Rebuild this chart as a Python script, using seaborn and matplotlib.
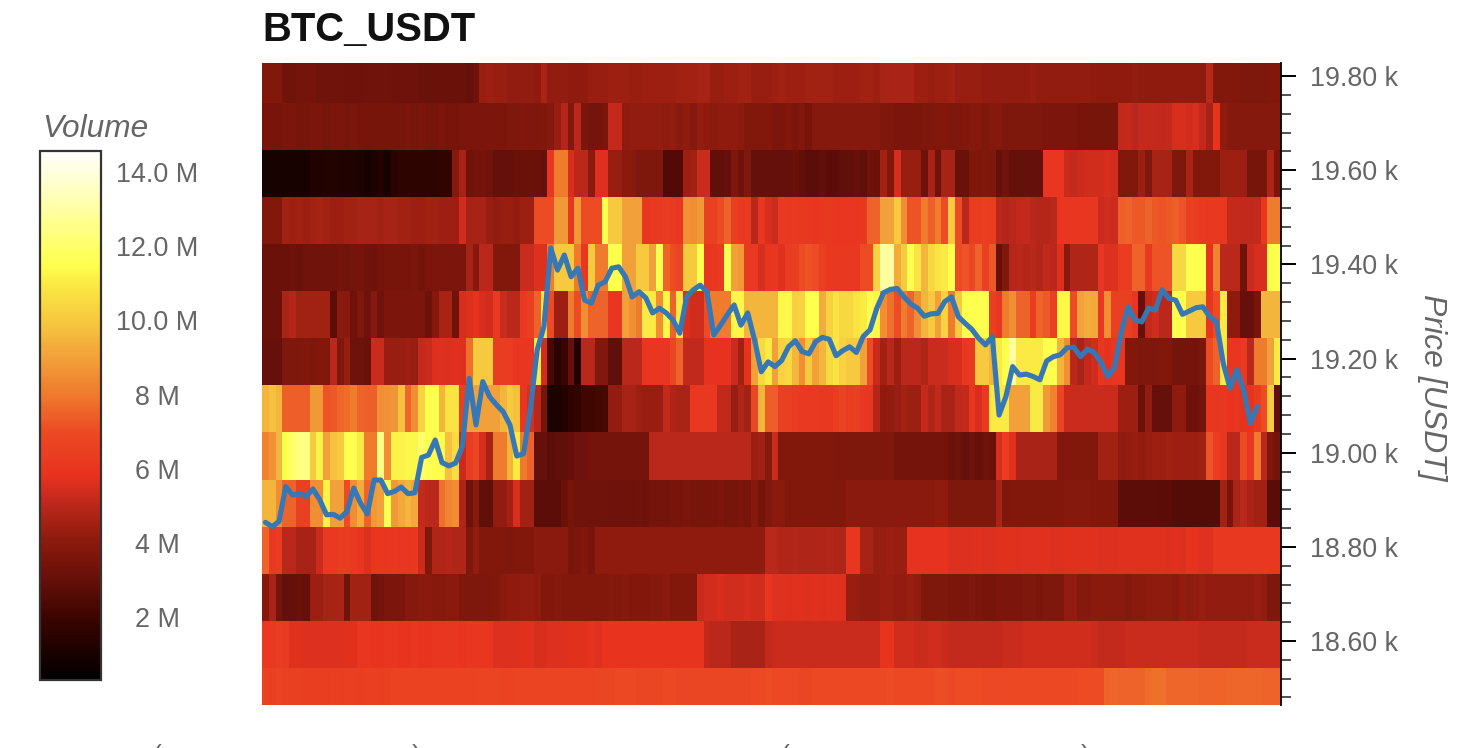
import numpy as np
import matplotlib
matplotlib.use('Agg')
import matplotlib.pyplot as plt
from matplotlib.colors import LinearSegmentedColormap
import seaborn as sns

sns.set_style('white')
plt.rcParams['font.family'] = ['Liberation Sans', 'DejaVu Sans']

# volume per price bin (millions), top row first, one value per time step
vol_19790 = [3.8, 3.8, 3.8, 3.3, 3.3, 3.4, 3.4, 3.4, 3.3, 3.3,
             3.3, 3.3, 3.2, 3.2, 3.2, 3.3, 3.3, 3.3, 3.3, 3.2,
             3.2, 3.2, 3.2, 3.1, 3.1, 3.1, 3.1, 3.1, 3.1, 3.1,
             3.0, 3.2, 4.3, 4.4, 4.3, 4.3, 4.2, 4.2, 4.2, 4.2,
             4.1, 4.7, 4.2, 4.2, 4.2, 4.1, 4.1, 4.1, 4.3, 4.3,
             4.3, 4.4, 4.4, 4.4, 4.3, 4.3, 4.4, 4.4, 4.4, 4.4,
             4.4, 4.5, 4.5, 4.5, 4.6, 4.6, 4.3, 4.3, 4.4, 4.4,
             4.5, 4.5, 4.3, 4.3, 4.3, 4.4, 4.5, 4.4, 4.4, 4.4,
             4.5, 4.5, 4.5, 4.5, 4.4, 4.4, 4.4, 4.4, 4.5, 4.5,
             4.4, 4.6, 4.7, 4.7, 4.7, 4.7, 4.4, 4.4, 4.3, 4.4,
             4.4, 4.5, 4.3, 4.3, 4.3, 4.3, 4.2, 4.2, 4.2, 4.2,
             4.2, 4.2, 4.2, 4.3, 4.2, 4.2, 4.2, 4.2, 4.2, 4.2,
             4.2, 4.2, 4.1, 4.1, 4.1, 4.1, 4.1, 4.1, 4.2, 4.1,
             4.1, 4.1, 4.1, 4.1, 4.1, 4.1, 4.1, 4.1, 4.1, 5.0,
             3.8, 3.8, 3.8, 3.8, 3.7, 3.7, 3.7, 3.7, 3.8, 3.8]
vol_19690 = [3.5, 3.5, 3.5, 3.6, 3.6, 3.5, 3.5, 3.6, 3.6, 3.5,
             3.6, 3.6, 3.5, 3.6, 3.5, 3.5, 3.5, 3.5, 3.5, 3.5,
             3.5, 3.6, 3.5, 3.6, 3.5, 3.5, 3.6, 3.5, 3.5, 3.6,
             3.6, 3.6, 3.6, 3.6, 3.6, 3.6, 3.7, 3.7, 3.8, 3.7,
             3.7, 3.8, 3.9, 4.3, 4.9, 3.8, 5.0, 3.6, 3.4, 3.4,
             3.6, 5.2, 5.2, 4.1, 4.2, 4.2, 4.2, 4.2, 4.2, 4.1,
             4.2, 4.0, 4.1, 3.9, 4.2, 4.1, 4.0, 4.1, 4.1, 4.1,
             4.0, 3.8, 3.8, 3.8, 3.8, 3.6, 3.6, 3.8, 3.6, 3.8,
             3.5, 3.9, 3.9, 3.9, 3.9, 3.9, 3.9, 3.9, 3.9, 3.9,
             3.9, 3.7, 3.7, 3.6, 3.6, 3.6, 3.6, 3.7, 3.7, 3.8,
             3.8, 3.7, 3.7, 3.8, 3.9, 3.9, 3.7, 3.9, 3.9, 3.7,
             3.7, 3.7, 3.7, 3.7, 3.7, 3.6, 3.6, 3.6, 3.6, 3.6,
             3.5, 3.5, 3.5, 3.5, 3.5, 3.5, 5.1, 5.2, 5.0, 5.2,
             5.2, 5.2, 5.1, 5.2, 5.5, 5.5, 5.4, 5.5, 5.2, 4.6,
             5.9, 4.1, 3.9, 3.9, 3.9, 3.9, 3.9, 3.9, 3.9, 3.9]
vol_19590 = [1.0, 1.0, 1.0, 1.0, 1.0, 1.0, 1.0, 1.2, 1.2, 1.3,
             1.3, 1.2, 1.2, 1.2, 1.1, 1.0, 1.1, 1.3, 1.0, 1.5,
             1.6, 1.6, 1.6, 1.6, 1.6, 1.6, 1.7, 1.7, 3.9, 4.6,
             3.3, 3.4, 3.4, 3.3, 3.0, 3.0, 3.0, 3.1, 3.1, 3.1,
             3.1, 3.0, 6.0, 8.0, 8.0, 5.5, 5.0, 5.0, 4.0, 5.6,
             5.6, 4.3, 4.3, 4.0, 4.0, 3.7, 3.7, 3.7, 3.7, 2.5,
             2.5, 2.5, 4.4, 4.5, 5.3, 5.3, 2.9, 2.9, 3.0, 3.7,
             3.2, 3.7, 3.0, 3.0, 3.0, 3.0, 3.0, 3.0, 3.1, 2.9,
             2.8, 2.8, 2.9, 2.8, 2.8, 2.9, 2.9, 3.0, 2.9, 3.2,
             3.1, 4.5, 3.8, 5.5, 4.3, 4.3, 4.3, 3.2, 4.7, 3.3,
             4.6, 4.6, 3.1, 3.1, 3.7, 3.7, 3.8, 3.7, 3.0, 3.3,
             3.0, 3.0, 3.0, 3.0, 3.0, 6.0, 6.0, 6.0, 5.3, 5.2,
             5.3, 5.4, 5.4, 5.4, 5.5, 5.4, 3.8, 3.8, 3.8, 4.4,
             3.8, 4.6, 4.6, 4.6, 3.7, 3.7, 4.7, 3.8, 3.8, 3.8,
             3.8, 4.4, 4.4, 4.4, 4.4, 3.5, 3.5, 3.5, 4.8, 3.6]
vol_19490 = [3.8, 3.8, 3.8, 4.5, 4.4, 4.5, 4.4, 4.5, 4.6, 4.5,
             4.4, 4.4, 4.5, 4.5, 4.6, 4.6, 4.6, 4.5, 4.6, 4.6,
             4.5, 4.5, 4.4, 4.4, 4.5, 4.5, 4.4, 4.4, 4.4, 5.4,
             4.6, 4.6, 4.6, 4.3, 4.2, 4.3, 4.3, 4.2, 4.4, 4.4,
             7.0, 7.0, 7.0, 8.8, 8.8, 6.0, 8.8, 7.0, 7.0, 7.0,
             11.5, 10.0, 10.0, 9.0, 9.0, 9.0, 6.0, 6.2, 6.2, 6.3,
             6.2, 6.0, 8.6, 8.5, 8.8, 6.5, 6.5, 7.0, 7.5, 6.4,
             6.2, 6.2, 5.0, 6.0, 5.5, 5.3, 6.2, 6.1, 6.2, 6.1,
             6.1, 6.0, 6.1, 6.1, 6.0, 6.0, 6.0, 6.0, 6.1, 7.5,
             7.5, 9.0, 9.0, 10.0, 8.5, 7.2, 7.2, 8.0, 7.4, 8.0,
             7.0, 10.0, 7.0, 5.0, 6.3, 6.3, 6.4, 6.3, 5.0, 4.9,
             5.0, 5.1, 5.2, 5.0, 4.9, 4.9, 5.0, 6.0, 6.0, 6.0,
             6.0, 6.0, 6.0, 5.3, 5.4, 5.3, 7.4, 7.5, 7.3, 7.3,
             7.5, 7.3, 7.2, 7.3, 7.4, 7.2, 6.5, 6.3, 6.2, 6.1,
             6.1, 6.1, 5.2, 5.2, 5.1, 5.1, 5.2, 6.0, 8.0, 8.0]
vol_19390 = [3.1, 3.1, 3.1, 3.1, 3.2, 3.1, 3.3, 3.3, 3.3, 3.3,
             3.3, 3.4, 3.3, 3.4, 3.4, 3.3, 3.2, 3.4, 3.5, 3.5,
             3.5, 3.5, 3.6, 3.4, 3.6, 3.6, 3.6, 3.6, 3.6, 3.6,
             4.6, 3.9, 5.0, 5.0, 3.8, 3.8, 3.8, 3.8, 5.3, 5.3,
             5.6, 5.6, 8.0, 10.0, 10.0, 10.0, 8.0, 6.0, 10.0, 8.0,
             8.0, 11.5, 11.5, 9.0, 9.0, 10.0, 10.0, 9.0, 11.5, 7.5,
             7.0, 6.8, 10.0, 10.0, 11.5, 6.0, 6.0, 6.2, 11.5, 9.0,
             8.8, 6.2, 6.2, 5.5, 6.0, 6.1, 5.7, 6.3, 6.4, 7.0,
             7.2, 7.0, 6.5, 6.1, 6.1, 6.1, 6.1, 6.1, 7.0, 7.0,
             10.3, 13.0, 13.0, 9.3, 10.0, 11.5, 10.8, 9.5, 10.5, 10.8,
             11.0, 11.5, 7.0, 7.2, 6.8, 7.5, 6.5, 7.3, 3.0, 3.8,
             4.9, 5.0, 4.9, 5.0, 4.8, 5.1, 5.0, 5.6, 4.0, 4.8,
             4.8, 4.8, 4.8, 6.0, 5.6, 5.6, 6.3, 6.3, 7.5, 7.5,
             6.2, 7.2, 7.2, 7.2, 10.5, 10.5, 11.5, 11.5, 11.5, 5.8,
             8.3, 5.0, 5.0, 5.0, 3.3, 5.3, 5.5, 5.5, 11.5, 11.5]
vol_19290 = [3.1, 3.1, 3.1, 4.7, 4.9, 4.5, 4.5, 4.5, 4.5, 4.5,
             2.8, 4.0, 4.0, 3.2, 3.7, 3.2, 3.9, 3.2, 3.6, 3.6,
             3.6, 3.6, 3.6, 3.6, 3.2, 3.9, 4.6, 4.6, 3.3, 5.5,
             5.6, 5.8, 5.5, 5.4, 6.2, 5.3, 5.0, 5.0, 6.2, 6.5,
             7.5, 11.0, 7.0, 4.4, 4.4, 8.0, 7.0, 8.5, 7.5, 7.5,
             7.5, 6.0, 6.0, 9.0, 8.5, 8.0, 11.0, 11.0, 8.5, 11.3,
             7.5, 11.0, 5.6, 5.4, 5.4, 7.0, 8.0, 8.0, 8.0, 11.3,
             11.3, 9.5, 9.5, 9.5, 9.5, 9.5, 11.3, 11.3, 10.2, 10.3,
             11.5, 11.5, 9.3, 10.3, 10.8, 10.5, 10.5, 10.8, 11.0, 11.5,
             11.3, 8.5, 7.8, 7.0, 8.0, 7.5, 8.5, 9.5, 10.0, 9.0,
             10.3, 8.0, 10.0, 11.5, 11.5, 11.5, 11.5, 6.5, 6.0, 8.0,
             8.5, 7.5, 7.5, 6.3, 7.5, 7.3, 6.5, 11.3, 11.3, 7.0,
             9.0, 9.3, 9.2, 6.0, 8.5, 6.5, 6.5, 6.5, 6.0, 3.0,
             5.2, 5.4, 5.0, 5.0, 11.5, 11.5, 10.0, 10.0, 10.0, 6.0,
             7.0, 11.0, 4.1, 4.1, 3.0, 3.0, 3.5, 9.5, 9.5, 9.5]
vol_19190 = [3.0, 3.0, 3.0, 3.7, 3.7, 3.7, 3.8, 3.7, 3.8, 3.8,
             5.0, 3.7, 4.3, 3.2, 3.2, 3.1, 5.3, 5.3, 4.3, 4.3,
             4.3, 4.4, 4.3, 5.2, 5.3, 5.6, 5.7, 5.6, 5.7, 5.6,
             7.8, 10.0, 10.0, 10.0, 6.3, 6.3, 6.3, 6.0, 6.0, 6.0,
             11.0, 5.4, 2.3, 1.5, 1.9, 3.0, 1.3, 5.0, 5.0, 3.8,
             3.8, 2.9, 2.9, 5.0, 5.0, 5.0, 6.0, 6.0, 6.0, 6.0,
             6.8, 7.5, 5.1, 5.1, 5.1, 5.8, 5.8, 5.8, 5.8, 5.3,
             4.5, 5.8, 9.0, 10.5, 11.0, 9.0, 10.3, 10.5, 9.5, 8.5,
             10.0, 9.0, 9.5, 10.5, 10.8, 10.3, 10.0, 10.0, 9.0, 7.0,
             5.3, 4.5, 5.0, 4.4, 5.0, 5.0, 5.0, 4.8, 5.3, 5.3,
             5.3, 5.5, 5.5, 6.1, 6.2, 10.0, 10.0, 9.5, 11.0, 11.5,
             13.0, 11.0, 11.0, 11.0, 11.0, 11.5, 11.5, 9.5, 8.5, 5.0,
             4.7, 5.2, 5.4, 6.0, 5.8, 6.0, 6.0, 3.8, 3.8, 3.7,
             3.7, 3.7, 3.8, 3.8, 3.4, 3.4, 3.4, 3.4, 3.6, 7.0,
             7.5, 11.0, 6.0, 6.0, 6.2, 5.0, 8.0, 8.0, 9.0, 11.0]
vol_19090 = [9.5, 9.8, 9.5, 7.4, 7.4, 7.4, 7.4, 8.8, 8.8, 7.2,
             7.3, 7.6, 7.7, 8.0, 7.5, 7.4, 7.4, 8.5, 8.6, 8.7,
             9.8, 7.6, 8.5, 10.3, 11.5, 11.5, 9.5, 10.8, 10.8, 6.5,
             9.0, 9.0, 9.0, 9.0, 9.0, 9.5, 10.0, 9.8, 6.0, 5.5,
             5.0, 3.5, 1.1, 1.1, 1.3, 1.6, 1.7, 2.1, 2.1, 2.2,
             2.3, 4.2, 4.2, 4.6, 4.6, 4.4, 4.3, 4.3, 4.3, 5.2,
             4.8, 4.7, 4.7, 6.1, 6.1, 6.1, 6.1, 5.1, 5.1, 4.3,
             4.8, 4.5, 6.8, 9.5, 7.4, 7.4, 6.5, 6.5, 6.3, 6.2,
             6.2, 6.2, 6.1, 6.1, 6.3, 6.6, 6.3, 6.5, 6.1, 6.0,
             4.9, 4.1, 4.2, 4.3, 4.5, 4.4, 4.4, 5.2, 4.8, 5.1,
             4.7, 4.7, 5.1, 5.2, 6.0, 5.5, 6.2, 11.0, 11.0, 11.0,
             9.0, 9.0, 9.0, 11.0, 11.0, 8.8, 8.2, 6.8, 5.3, 5.3,
             5.3, 5.3, 5.3, 5.3, 5.3, 5.3, 4.4, 4.4, 4.4, 3.1,
             4.2, 3.0, 3.0, 3.0, 4.1, 4.1, 3.2, 3.2, 3.4, 6.0,
             6.0, 6.1, 5.9, 6.0, 5.8, 5.9, 6.3, 7.0, 10.0, 2.9]
vol_18990 = [8.2, 8.6, 9.5, 11.5, 12.0, 12.4, 12.4, 10.0, 11.2, 9.0,
             9.8, 10.0, 11.5, 11.5, 11.0, 8.0, 8.0, 12.5, 8.5, 11.2,
             11.2, 11.3, 11.3, 12.0, 11.6, 11.4, 11.4, 9.8, 10.6, 5.3,
             6.3, 6.8, 5.5, 4.6, 8.0, 8.0, 9.5, 11.0, 8.0, 7.5,
             3.0, 3.0, 2.8, 2.9, 2.9, 3.0, 3.2, 3.2, 3.4, 3.4,
             3.4, 3.4, 3.4, 3.4, 3.4, 3.4, 3.4, 5.0, 5.0, 5.0,
             5.0, 5.0, 5.0, 5.0, 5.0, 5.0, 5.0, 5.0, 5.0, 5.0,
             5.0, 5.0, 4.4, 4.5, 3.9, 5.3, 3.8, 3.8, 3.8, 3.8,
             3.8, 3.8, 3.8, 3.8, 3.7, 3.7, 3.7, 3.7, 3.7, 3.7,
             3.7, 3.7, 3.7, 3.4, 3.4, 3.4, 3.4, 3.4, 3.4, 3.4,
             3.4, 3.1, 3.3, 3.0, 3.2, 3.0, 3.3, 3.1, 5.5, 6.3,
             5.7, 4.7, 4.7, 4.7, 4.7, 4.7, 4.7, 3.8, 3.8, 3.8,
             3.8, 3.8, 3.8, 4.5, 4.5, 4.5, 4.1, 4.2, 4.3, 4.2,
             4.3, 4.4, 4.4, 4.5, 4.4, 4.4, 4.4, 4.4, 4.5, 7.2,
             6.3, 6.0, 5.0, 5.0, 7.0, 6.0, 8.0, 5.0, 3.7, 3.4]
vol_18890 = [9.5, 9.5, 8.5, 7.5, 7.5, 6.5, 6.5, 8.5, 8.5, 11.2,
             9.0, 9.0, 7.0, 8.5, 9.3, 7.5, 8.8, 9.0, 11.5, 8.8,
             9.2, 9.5, 9.2, 5.2, 5.0, 5.0, 7.8, 8.3, 8.5, 4.8,
             3.2, 4.0, 2.9, 2.9, 4.2, 4.2, 4.5, 5.5, 4.5, 4.5,
             2.8, 2.8, 2.8, 2.8, 3.1, 3.5, 3.3, 3.3, 3.3, 3.3,
             3.3, 3.2, 3.2, 3.2, 3.2, 3.3, 3.2, 3.4, 3.4, 3.4,
             3.5, 3.5, 3.6, 3.5, 3.5, 3.5, 3.5, 3.6, 3.5, 3.5,
             3.6, 3.5, 3.9, 3.4, 3.8, 4.0, 4.0, 3.8, 3.8, 3.8,
             3.8, 3.8, 3.8, 3.8, 3.8, 3.8, 4.0, 4.0, 4.0, 4.0,
             4.0, 4.0, 4.0, 4.0, 4.0, 4.0, 4.0, 4.0, 4.0, 4.1,
             4.1, 3.7, 3.7, 3.7, 3.7, 3.7, 3.7, 3.7, 4.7, 3.7,
             3.8, 3.8, 3.8, 3.8, 3.8, 3.8, 3.8, 3.8, 3.9, 3.9,
             3.9, 3.9, 3.8, 3.8, 3.8, 3.8, 2.8, 2.8, 2.8, 2.8,
             2.8, 2.8, 2.7, 2.7, 2.6, 2.6, 2.6, 2.6, 2.6, 2.6,
             2.6, 4.5, 3.5, 4.7, 5.0, 4.7, 4.5, 4.5, 2.7, 2.7]
vol_18790 = [7.5, 6.2, 6.3, 5.0, 5.0, 4.6, 4.6, 4.6, 5.3, 6.2,
             6.2, 6.3, 6.3, 6.2, 6.0, 5.6, 6.0, 6.0, 6.0, 6.1,
             6.0, 6.0, 6.1, 5.3, 3.8, 4.8, 4.8, 4.9, 4.8, 4.8,
             3.7, 4.2, 3.8, 3.8, 3.8, 3.8, 3.7, 3.8, 3.8, 3.8,
             4.0, 4.0, 4.0, 4.0, 4.0, 3.5, 3.6, 3.8, 3.5, 4.1,
             4.1, 4.1, 4.1, 4.1, 4.1, 4.1, 4.1, 4.1, 4.1, 4.1,
             4.1, 4.1, 4.1, 4.1, 4.1, 4.1, 4.1, 4.1, 4.1, 4.1,
             4.1, 4.1, 4.1, 4.1, 5.0, 5.0, 4.8, 4.8, 4.9, 4.8,
             4.8, 4.8, 4.8, 4.9, 4.8, 4.8, 6.0, 6.0, 4.6, 4.6,
             4.3, 4.3, 4.4, 4.3, 4.3, 5.8, 5.8, 5.8, 5.8, 5.8,
             5.8, 5.6, 5.6, 5.6, 5.6, 5.7, 5.6, 5.6, 5.7, 5.7,
             5.7, 5.6, 5.7, 5.7, 5.7, 5.7, 5.6, 5.6, 5.7, 5.7,
             5.7, 5.7, 5.7, 5.6, 5.6, 5.6, 5.7, 5.7, 5.7, 5.7,
             5.7, 5.7, 5.7, 5.6, 5.7, 5.6, 5.8, 5.8, 5.7, 5.7,
             6.1, 6.1, 6.1, 6.1, 6.1, 6.1, 6.1, 6.1, 6.1, 6.1]
vol_18690 = [3.9, 4.7, 3.4, 3.0, 3.0, 3.1, 3.0, 4.4, 4.4, 4.6,
             4.6, 4.7, 3.3, 4.5, 4.5, 4.5, 3.2, 3.4, 3.6, 3.6,
             3.6, 3.9, 3.9, 4.0, 4.0, 3.9, 3.9, 4.0, 4.0, 3.7,
             3.7, 3.7, 3.7, 3.7, 3.8, 4.0, 4.1, 4.1, 4.2, 4.2,
             4.1, 3.8, 3.8, 3.9, 3.8, 3.8, 3.8, 3.8, 3.8, 3.8,
             3.8, 3.9, 3.8, 3.9, 3.8, 3.8, 3.8, 3.9, 3.9, 4.0,
             3.8, 3.8, 3.8, 3.8, 5.3, 5.4, 5.4, 5.5, 5.4, 5.4,
             5.4, 5.5, 5.4, 5.4, 6.0, 5.7, 5.7, 5.6, 5.7, 5.7,
             5.6, 5.7, 5.6, 5.7, 5.7, 5.6, 4.3, 4.3, 4.2, 4.2,
             4.2, 4.3, 4.3, 4.2, 4.2, 4.3, 4.2, 3.7, 3.7, 3.7,
             3.7, 3.6, 3.6, 3.6, 3.7, 3.6, 3.5, 3.5, 3.6, 3.6,
             3.6, 3.6, 3.7, 3.7, 3.6, 3.7, 3.7, 3.7, 4.2, 4.2,
             3.9, 3.9, 4.0, 4.0, 4.0, 4.0, 4.0, 3.9, 4.0, 4.0,
             4.1, 4.1, 4.1, 4.1, 4.0, 4.2, 4.1, 4.2, 4.3, 4.2,
             4.2, 4.2, 4.2, 4.2, 4.2, 4.2, 4.3, 4.2, 3.7, 3.7]
vol_18590 = [6.2, 6.2, 6.3, 6.2, 5.7, 5.7, 5.6, 5.6, 5.6, 5.6,
             5.6, 5.6, 5.7, 5.7, 6.0, 6.0, 5.9, 5.9, 6.0, 6.0,
             5.9, 5.9, 6.0, 5.9, 5.9, 6.0, 6.0, 6.0, 6.0, 5.9,
             6.0, 6.0, 6.0, 6.0, 5.6, 5.6, 5.6, 5.6, 5.7, 5.7,
             5.5, 5.5, 5.6, 5.6, 5.6, 5.7, 5.7, 5.7, 5.8, 5.7,
             5.9, 5.9, 5.9, 5.9, 5.9, 5.9, 5.9, 5.9, 5.9, 5.9,
             5.9, 5.9, 5.9, 5.9, 5.9, 5.1, 5.0, 5.0, 5.0, 4.7,
             4.7, 4.7, 4.7, 4.7, 5.2, 5.3, 5.3, 5.3, 5.3, 5.3,
             5.3, 5.3, 5.3, 5.3, 5.3, 5.3, 5.3, 5.3, 5.3, 5.3,
             5.3, 5.9, 5.9, 5.4, 5.4, 5.4, 5.3, 5.3, 5.4, 5.4,
             5.3, 5.2, 5.2, 5.2, 5.2, 5.2, 5.2, 5.2, 5.2, 5.3,
             5.3, 5.3, 5.4, 5.4, 5.4, 5.4, 5.4, 5.4, 5.4, 5.4,
             5.4, 5.4, 5.3, 5.2, 5.2, 5.2, 5.2, 5.3, 5.3, 5.3,
             5.3, 5.3, 5.3, 5.3, 5.3, 5.3, 5.3, 5.3, 5.2, 5.2,
             5.2, 5.2, 5.2, 5.2, 5.2, 5.3, 5.3, 5.3, 5.3, 5.3]
vol_18490 = [6.6, 6.5, 6.6, 6.5, 6.5, 6.5, 6.4, 6.4, 6.4, 6.4,
             6.5, 6.4, 6.5, 6.5, 6.4, 6.5, 6.5, 6.4, 6.5, 6.6,
             6.6, 6.6, 6.6, 6.6, 6.6, 6.6, 6.6, 6.6, 6.6, 6.6,
             6.6, 6.6, 6.7, 6.7, 6.7, 6.6, 6.6, 6.7, 6.7, 6.7,
             6.7, 6.7, 6.7, 6.7, 6.7, 6.7, 6.7, 6.7, 6.7, 6.8,
             6.8, 6.8, 6.9, 6.9, 6.9, 6.8, 6.8, 6.8, 6.8, 6.9,
             6.9, 6.8, 6.8, 6.8, 6.8, 6.8, 6.8, 6.8, 6.8, 6.8,
             6.8, 6.8, 6.9, 6.9, 7.0, 6.9, 6.9, 6.9, 6.9, 6.8,
             6.8, 6.9, 6.9, 6.9, 6.9, 6.9, 6.9, 6.9, 6.9, 6.9,
             6.9, 6.9, 7.0, 6.9, 6.9, 6.9, 6.9, 6.9, 6.9, 7.1,
             7.1, 6.9, 7.0, 7.0, 7.0, 7.0, 6.9, 6.9, 6.9, 6.9,
             6.9, 6.9, 6.9, 6.9, 6.9, 6.9, 6.9, 6.9, 6.9, 6.9,
             7.0, 7.0, 7.0, 7.0, 7.5, 7.6, 7.5, 7.5, 7.5, 7.5,
             7.7, 7.8, 7.8, 7.6, 7.6, 7.6, 7.6, 7.6, 7.5, 7.5,
             7.5, 7.5, 7.6, 7.6, 7.6, 7.6, 7.6, 7.5, 7.5, 7.5]

# close price, one value per time step
close = [18852, 18843, 18854, 18928, 18910, 18913, 18907, 18923, 18900, 18868,
         18869, 18861, 18875, 18925, 18893, 18870, 18942, 18942, 18913, 18918,
         18927, 18913, 18915, 18990, 18995, 19027, 18979, 18972, 18978, 19014,
         19158, 19059, 19151, 19119, 19102, 19087, 19059, 18993, 18998, 19091,
         19218, 19268, 19435, 19388, 19420, 19374, 19392, 19324, 19318, 19356,
         19363, 19392, 19395, 19374, 19331, 19342, 19329, 19297, 19307, 19297,
         19282, 19254, 19331, 19346, 19356, 19342, 19250, 19271, 19293, 19314,
         19271, 19297, 19240, 19172, 19193, 19183, 19196, 19225, 19238, 19215,
         19210, 19236, 19245, 19241, 19206, 19217, 19225, 19213, 19247, 19261,
         19307, 19340, 19347, 19349, 19331, 19316, 19307, 19290, 19295, 19296,
         19321, 19331, 19289, 19275, 19262, 19243, 19229, 19247, 19080, 19119,
         19183, 19165, 19167, 19162, 19155, 19195, 19204, 19208, 19223, 19224,
         19204, 19220, 19213, 19192, 19162, 19181, 19257, 19310, 19282, 19278,
         19307, 19303, 19346, 19328, 19324, 19294, 19301, 19308, 19310, 19289,
         19278, 19190, 19137, 19176, 19133, 19063, 19098]

price_ticks = [19800, 19600, 19400, 19200, 19000, 18800, 18600]
price_labels = ['19.80 k', '19.60 k', '19.40 k', '19.20 k', '19.00 k', '18.80 k', '18.60 k']
minor_prices = list(range(18480, 19800, 40))

vol_ticks = [2, 4, 6, 8, 10, 12, 14]
vol_labels = ['2 M', '4 M', '6 M', '8 M', '10.0 M', '12.0 M', '14.0 M']

# colours picked off the colour bar
vmin, vmax = 0.3, 14.57
stops = [(0.3, '#000000'), (2, '#3d0500'), (3, '#66100a'), (4, '#8a1a0d'), (5, '#b9281a'),
         (5.8, '#e8321f'), (7, '#ec4a24'), (8, '#ef7a2d'), (9, '#f2a03a'), (10, '#f6c83f'),
         (11, '#fbe944'), (11.5, '#ffff4d'), (12.5, '#ffff85'), (14, '#ffffdc'), (14.57, '#ffffff')]
fire = LinearSegmentedColormap.from_list('fire_like', [((v - vmin) / (vmax - vmin), c) for v, c in stops])


def to_row(price):
    # heatmap rows are 100 USDT high
    return (19843 - np.asarray(price, dtype=float)) / 100


volume = np.array([vol_19790, vol_19690, vol_19590, vol_19490, vol_19390, vol_19290, vol_19190,
                   vol_19090, vol_18990, vol_18890, vol_18790, vol_18690, vol_18590, vol_18490])

W, H = 1484, 748
fig = plt.figure(figsize=(W / 100, H / 100), dpi=100)
ax = fig.add_axes([262 / W, (H - 705) / H, 1019 / W, 642 / H])
cax = fig.add_axes([40 / W, (H - 680) / H, 61 / W, 529 / H])

sns.heatmap(volume, ax=ax, cbar_ax=cax, cmap=fire, vmin=vmin, vmax=vmax,
            xticklabels=False, yticklabels=False, linewidths=0)
sns.lineplot(x=np.arange(len(close)) + 0.5, y=to_row(close), ax=ax, color='#3678b5',
             linewidth=3.7, legend=False, solid_joinstyle='round', solid_capstyle='round')

ax.set_xlim(0, volume.shape[1])
ax.set_ylim(to_row(18464), to_row(19828))
ax.set_xlabel('')
ax.set_ylabel('')
ax.set_title('BTC_USDT', loc='left', fontsize=28.8, fontweight='bold', color='#111111', x=0.0, pad=15.5)

# price axis on the right
for name in ['top', 'left', 'bottom']:
    ax.spines[name].set_visible(False)
ax.spines['right'].set_visible(True)
ax.spines['right'].set_color('black')
ax.spines['right'].set_linewidth(1.3)
ax.yaxis.tick_right()
ax.set_yticks(to_row(price_ticks))
ax.set_yticklabels(price_labels)
ax.set_yticks(to_row(minor_prices), minor=True)
ax.tick_params(axis='y', which='major', direction='out', length=11, width=1.4, color='black',
               labelsize=19.4, labelcolor='#666666', pad=10)
ax.tick_params(axis='y', which='minor', direction='out', length=7, width=1.1, color='#222222')
ax.tick_params(axis='x', bottom=False)
fig.text(1432 / W, (H - 387) / H, 'Price [USDT]', rotation=-90, style='italic', fontsize=23,
         color='#666666', ha='center', va='center')

# colour bar
cbar = ax.collections[0].colorbar
cbar.set_ticks(vol_ticks)
cbar.set_ticklabels(vol_labels)
cbar.outline.set_visible(True)
cbar.outline.set_linewidth(1.6)
cbar.outline.set_edgecolor('#333333')
cax.tick_params(axis='y', which='both', right=True, direction='in', length=9, width=1.4, color='#222222',
                labelsize=19.4, labelcolor='#666666', pad=40.5)
for lab in cax.get_yticklabels():
    lab.set_horizontalalignment('center')
fig.text(42 / W, (H - 129) / H, 'Volume', style='italic', fontsize=22.8, color='#666666', ha='left', va='center')

# date labels are cut off by the lower edge in the reference
for x_px, ch in [(157, '('), (416, ')'), (785, '('), (1085, ')')]:
    fig.text(x_px / W, (H - 744) / H, ch, fontsize=19, color='#666666', ha='center', va='top')

fig.savefig('out.png', dpi=100)
